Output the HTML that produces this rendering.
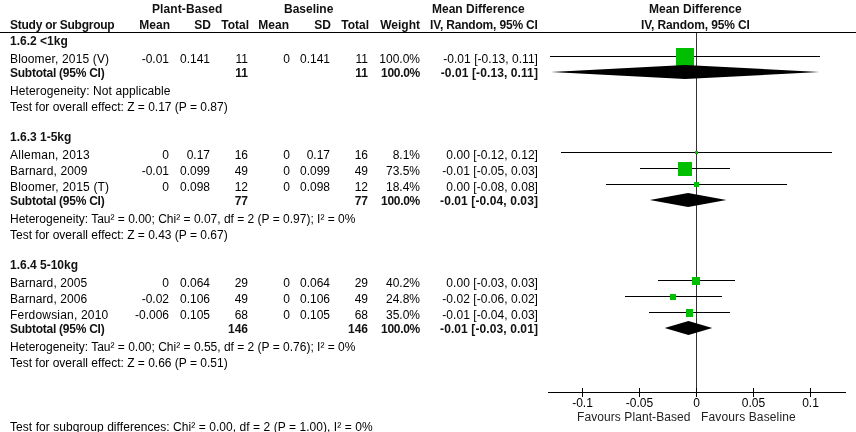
<!DOCTYPE html>
<html><head><meta charset="utf-8"><style>
html,body{margin:0;padding:0;background:#fff;}
.t{position:absolute;left:0;top:0;width:856px;height:432px;will-change:transform;}
body{width:856px;height:432px;position:relative;overflow:hidden;font-family:"Liberation Sans",Arial,sans-serif;font-size:12px;color:#000;}
.n,.b{position:absolute;white-space:nowrap;line-height:14px;}
.b{font-weight:bold;color:#111;}
svg{position:absolute;left:0;top:0;}
</style></head><body>
<svg width="856" height="432" viewBox="0 0 856 432" shape-rendering="crispEdges">
<rect x="0" y="32" width="856" height="1" fill="#000"/>
<rect x="696" y="33" width="1" height="359" fill="#333"/>
<rect x="548" y="392" width="298" height="1" fill="#000"/>
<rect x="582" y="388" width="1" height="9" fill="#000"/>
<rect x="639" y="388" width="1" height="9" fill="#000"/>
<rect x="696" y="388" width="1" height="9" fill="#000"/>
<rect x="753" y="388" width="1" height="9" fill="#000"/>
<rect x="810" y="388" width="1" height="9" fill="#000"/>
<rect x="550" y="56" width="270" height="1" fill="#000"/>
<rect x="676" y="48" width="18" height="18" fill="#00bf00"/>
<polygon shape-rendering="geometricPrecision" points="550.81,72 685.10,65 819.39,72 685.10,79" fill="#000"/>
<rect x="561" y="152" width="271" height="1" fill="#000"/>
<rect x="695" y="151" width="3" height="3" fill="#00bf00"/>
<rect x="640" y="168" width="90" height="1" fill="#000"/>
<rect x="678" y="162" width="14" height="14" fill="#00bf00"/>
<rect x="606" y="184" width="181" height="1" fill="#000"/>
<rect x="694" y="182" width="5" height="5" fill="#00bf00"/>
<polygon shape-rendering="geometricPrecision" points="649.81,200 688.12,193 726.44,200 688.12,207" fill="#000"/>
<rect x="658" y="280" width="77" height="1" fill="#000"/>
<rect x="692" y="277" width="8" height="8" fill="#00bf00"/>
<rect x="625" y="296" width="97" height="1" fill="#000"/>
<rect x="670" y="294" width="6" height="6" fill="#00bf00"/>
<rect x="649" y="312" width="81" height="1" fill="#000"/>
<rect x="686" y="309" width="7" height="8" fill="#00bf00"/>
<polygon shape-rendering="geometricPrecision" points="664.65,328 688.46,321 712.27,328 688.46,335" fill="#000"/>
</svg>
<div class="t">
<div class="b" style="top:2px;left:152px;letter-spacing:0.1px;">Plant-Based</div>
<div class="b" style="top:2px;left:284px;">Baseline</div>
<div class="b" style="top:2px;left:432px;">Mean Difference</div>
<div class="b" style="top:2px;left:649px;">Mean Difference</div>
<div class="b" style="top:18px;left:10px;letter-spacing:-0.25px;">Study or Subgroup</div>
<div class="b" style="top:18px;right:686px;">Mean</div>
<div class="b" style="top:18px;right:645px;">SD</div>
<div class="b" style="top:18px;right:607px;">Total</div>
<div class="b" style="top:18px;right:567px;">Mean</div>
<div class="b" style="top:18px;right:525px;">SD</div>
<div class="b" style="top:18px;right:487px;">Total</div>
<div class="b" style="top:18px;right:436px;">Weight</div>
<div class="b" style="top:18px;left:430px;letter-spacing:-0.18px;">IV, Random, 95% CI</div>
<div class="b" style="top:18px;left:641px;letter-spacing:-0.12px;">IV, Random, 95% CI</div>
<div class="b" style="top:34px;left:10px;">1.6.2 &lt;1kg</div>
<div class="n" style="top:52px;left:10px;letter-spacing:0.15px;">Bloomer, 2015 (V)</div>
<div class="n" style="top:52px;right:687px;">-0.01</div>
<div class="n" style="top:52px;right:646px;">0.141</div>
<div class="n" style="top:52px;right:608px;">11</div>
<div class="n" style="top:52px;right:566px;">0</div>
<div class="n" style="top:52px;right:526px;">0.141</div>
<div class="n" style="top:52px;right:488px;">11</div>
<div class="n" style="top:52px;right:436px;">100.0%</div>
<div class="n" style="top:52px;right:318px;letter-spacing:0.05px;">-0.01 [-0.13, 0.11]</div>
<div class="b" style="top:66px;left:10px;letter-spacing:-0.25px;">Subtotal (95% CI)</div>
<div class="b" style="top:66px;right:608px;">11</div>
<div class="b" style="top:66px;right:488px;">11</div>
<div class="b" style="top:66px;right:436px;letter-spacing:-0.3px;">100.0%</div>
<div class="b" style="top:66px;right:318px;letter-spacing:0.1px;">-0.01 [-0.13, 0.11]</div>
<div class="n" style="top:84px;left:10px;letter-spacing:0.11px;">Heterogeneity: Not applicable</div>
<div class="n" style="top:100px;left:10px;">Test for overall effect: Z = 0.17 (P = 0.87)</div>
<div class="b" style="top:130px;left:10px;">1.6.3 1-5kg</div>
<div class="n" style="top:148px;left:10px;letter-spacing:0.25px;">Alleman, 2013</div>
<div class="n" style="top:148px;right:687px;">0</div>
<div class="n" style="top:148px;right:646px;">0.17</div>
<div class="n" style="top:148px;right:608px;">16</div>
<div class="n" style="top:148px;right:566px;">0</div>
<div class="n" style="top:148px;right:526px;">0.17</div>
<div class="n" style="top:148px;right:488px;">16</div>
<div class="n" style="top:148px;right:436px;">8.1%</div>
<div class="n" style="top:148px;right:318px;letter-spacing:0.05px;">0.00 [-0.12, 0.12]</div>
<div class="n" style="top:164px;left:10px;letter-spacing:0.12px;">Barnard, 2009</div>
<div class="n" style="top:164px;right:687px;">-0.01</div>
<div class="n" style="top:164px;right:646px;">0.099</div>
<div class="n" style="top:164px;right:608px;">49</div>
<div class="n" style="top:164px;right:566px;">0</div>
<div class="n" style="top:164px;right:526px;">0.099</div>
<div class="n" style="top:164px;right:488px;">49</div>
<div class="n" style="top:164px;right:436px;">73.5%</div>
<div class="n" style="top:164px;right:318px;letter-spacing:0.05px;">-0.01 [-0.05, 0.03]</div>
<div class="n" style="top:180px;left:10px;letter-spacing:0.19px;">Bloomer, 2015 (T)</div>
<div class="n" style="top:180px;right:687px;">0</div>
<div class="n" style="top:180px;right:646px;">0.098</div>
<div class="n" style="top:180px;right:608px;">12</div>
<div class="n" style="top:180px;right:566px;">0</div>
<div class="n" style="top:180px;right:526px;">0.098</div>
<div class="n" style="top:180px;right:488px;">12</div>
<div class="n" style="top:180px;right:436px;">18.4%</div>
<div class="n" style="top:180px;right:318px;letter-spacing:0.05px;">0.00 [-0.08, 0.08]</div>
<div class="b" style="top:194px;left:10px;letter-spacing:-0.25px;">Subtotal (95% CI)</div>
<div class="b" style="top:194px;right:608px;">77</div>
<div class="b" style="top:194px;right:488px;">77</div>
<div class="b" style="top:194px;right:436px;letter-spacing:-0.3px;">100.0%</div>
<div class="b" style="top:194px;right:318px;letter-spacing:0.1px;">-0.01 [-0.04, 0.03]</div>
<div class="n" style="top:212px;left:10px;">Heterogeneity: Tau² = 0.00; Chi² = 0.07, df = 2 (P = 0.97); I² = 0%</div>
<div class="n" style="top:228px;left:10px;">Test for overall effect: Z = 0.43 (P = 0.67)</div>
<div class="b" style="top:258px;left:10px;">1.6.4 5-10kg</div>
<div class="n" style="top:276px;left:10px;letter-spacing:0.1px;">Barnard, 2005</div>
<div class="n" style="top:276px;right:687px;">0</div>
<div class="n" style="top:276px;right:646px;">0.064</div>
<div class="n" style="top:276px;right:608px;">29</div>
<div class="n" style="top:276px;right:566px;">0</div>
<div class="n" style="top:276px;right:526px;">0.064</div>
<div class="n" style="top:276px;right:488px;">29</div>
<div class="n" style="top:276px;right:436px;">40.2%</div>
<div class="n" style="top:276px;right:318px;letter-spacing:0.05px;">0.00 [-0.03, 0.03]</div>
<div class="n" style="top:292px;left:10px;letter-spacing:0.1px;">Barnard, 2006</div>
<div class="n" style="top:292px;right:687px;">-0.02</div>
<div class="n" style="top:292px;right:646px;">0.106</div>
<div class="n" style="top:292px;right:608px;">49</div>
<div class="n" style="top:292px;right:566px;">0</div>
<div class="n" style="top:292px;right:526px;">0.106</div>
<div class="n" style="top:292px;right:488px;">49</div>
<div class="n" style="top:292px;right:436px;">24.8%</div>
<div class="n" style="top:292px;right:318px;letter-spacing:0.05px;">-0.02 [-0.06, 0.02]</div>
<div class="n" style="top:308px;left:10px;letter-spacing:0.19px;">Ferdowsian, 2010</div>
<div class="n" style="top:308px;right:687px;">-0.006</div>
<div class="n" style="top:308px;right:646px;">0.105</div>
<div class="n" style="top:308px;right:608px;">68</div>
<div class="n" style="top:308px;right:566px;">0</div>
<div class="n" style="top:308px;right:526px;">0.105</div>
<div class="n" style="top:308px;right:488px;">68</div>
<div class="n" style="top:308px;right:436px;">35.0%</div>
<div class="n" style="top:308px;right:318px;letter-spacing:0.05px;">-0.01 [-0.04, 0.03]</div>
<div class="b" style="top:322px;left:10px;letter-spacing:-0.25px;">Subtotal (95% CI)</div>
<div class="b" style="top:322px;right:608px;">146</div>
<div class="b" style="top:322px;right:488px;">146</div>
<div class="b" style="top:322px;right:436px;letter-spacing:-0.3px;">100.0%</div>
<div class="b" style="top:322px;right:318px;letter-spacing:0.1px;">-0.01 [-0.03, 0.01]</div>
<div class="n" style="top:340px;left:10px;">Heterogeneity: Tau² = 0.00; Chi² = 0.55, df = 2 (P = 0.76); I² = 0%</div>
<div class="n" style="top:356px;left:10px;">Test for overall effect: Z = 0.66 (P = 0.51)</div>
<div class="n" style="top:420px;left:10px;letter-spacing:0.06px;">Test for subgroup differences: Chi² = 0.00, df = 2 (P = 1.00), I² = 0%</div>
<div class="n" style="top:396px;left:552.5px;width:60px;text-align:center;">-0.1</div>
<div class="n" style="top:396px;left:609.5px;width:60px;text-align:center;">-0.05</div>
<div class="n" style="top:396px;left:666.5px;width:60px;text-align:center;">0</div>
<div class="n" style="top:396px;left:723.5px;width:60px;text-align:center;">0.05</div>
<div class="n" style="top:396px;left:780.5px;width:60px;text-align:center;">0.1</div>
<div class="n" style="top:410px;left:577px;color:#222;letter-spacing:0.08px;">Favours Plant-Based</div>
<div class="n" style="top:410px;left:701px;color:#222;letter-spacing:0.13px;">Favours Baseline</div>
</div>
</body></html>
